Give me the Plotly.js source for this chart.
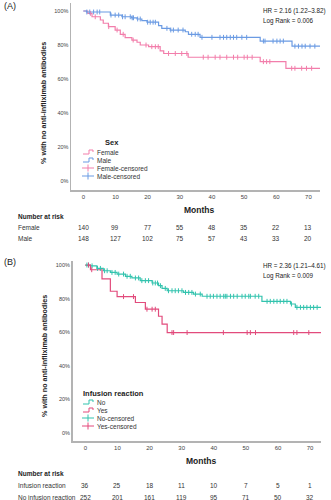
<!DOCTYPE html>
<html><head><meta charset="utf-8">
<script src="https://cdn.plot.ly/plotly-3.0.1.min.js"></script>
<style>html,body{margin:0;padding:0;background:#fff}#chart{width:331px;height:500px}</style>
</head><body><div id="chart"></div>
<script>
// ---------- data ----------
const monthTicks = [0, 10, 20, 30, 40, 50, 60, 70];
const yTicks = [0, 20, 40, 60, 80, 100];
const yTickLabels = ['0%', '20%', '40%', '60%', '80%', '100%'];

// Panel A: Sex
const femaleTimes = [0, 1.4, 2.7, 5.3, 6.2, 7.8, 9.9, 11.5, 13, 15.1, 16.7, 17.7, 20.3, 23.9, 25, 32.6, 55, 63, 73.6];
const femaleSurv  = [100, 98.6, 96.6, 94.7, 92.8, 90.8, 88.8, 86.3, 84.3, 82.9, 81.6, 80, 79, 76.5, 75, 72.8, 70.2, 66.3, 66.3];
const femaleCensor = [2.2, 3.7, 7.9, 10.5, 12.4, 15.5, 19.5, 21.3, 22.4, 23.3, 26.5, 28.6, 30.6, 32.2, 37.3, 38.8, 41, 42.5, 44.6, 46.7, 48, 50, 51, 52.5, 56, 57, 58, 64.8, 65.8, 67.9, 69.4, 71];
const maleTimes = [0, 1, 8.4, 12, 15, 16.7, 18.2, 19.8, 23.4, 24.4, 27, 31.7, 32.7, 36.3, 55, 64.9, 73.6];
const maleSurv  = [100, 99.4, 97.6, 96.6, 96, 95.3, 94.3, 93.4, 91.4, 89.8, 88.8, 87.8, 86.3, 84.5, 82.3, 79.3, 79.3];
const maleCensor = [1.1, 2, 3.2, 4.3, 5.1, 8.6, 9.9, 11, 12.2, 13, 14.6, 15.2, 15.6, 16.9, 17.7, 20, 20.8, 21.7, 22.4, 26, 27.2, 28, 29.5, 31, 33.7, 34.8, 35.7, 36.9, 40, 42.5, 43.6, 44.6, 45.7, 46.7, 47.7, 49.3, 50.8, 56, 56.5, 59, 60.2, 61.2, 62.2, 65.8, 66.9, 68, 69, 70.5, 72];
const femaleRisk = [140, 99, 77, 55, 48, 35, 22, 13];
const maleRisk   = [148, 127, 102, 75, 57, 43, 33, 20];

// Panel B: Infusion reaction
const noTimes = [0, 1.6, 3.6, 5.6, 7.8, 9.9, 12.5, 14.5, 17.1, 20.8, 22.8, 23.9, 25.5, 30.6, 33.7, 36.4, 55, 63.9, 65.4, 73.4];
const noSurv  = [100, 99.5, 98, 96.6, 95.6, 94.6, 93.3, 92.3, 90.7, 89.3, 87.7, 86.1, 84.7, 83.7, 82.7, 81.4, 78.4, 76.8, 74.8, 74.8];
const noCensor = [0.5, 1, 2.1, 3.8, 4.7, 6, 6.8, 8.3, 9.3, 10.4, 11.9, 13, 14, 15.6, 16.6, 17.6, 18.7, 19.7, 21, 21.8, 22.5, 23.4, 24.9, 25.9, 27, 28, 29, 30.1, 31.2, 32.2, 33.2, 34.3, 35.8, 37.9, 38.9, 39.9, 41, 42, 43.1, 43.6, 44.1, 45.2, 46.2, 47.3, 48.8, 49.8, 50.9, 51.4, 52.9, 54, 56.6, 57.6, 58.7, 59.7, 60.7, 61.8, 62.8, 64.2, 65.9, 67, 68, 69, 70.1, 71.1, 72.2];
const yesTimes = [0, 1.6, 5.2, 7.8, 9.9, 15.6, 18.7, 22.8, 23.9, 25.5, 73.4];
const yesSurv  = [100, 97.2, 91.7, 84.4, 81.2, 77.7, 73.7, 69.5, 64.8, 59.8, 59.8];
const yesCensor = [1, 2, 11.9, 15, 19.2, 20.8, 21.8, 27, 27.5, 31.7, 43, 50.4, 51.4, 53, 64.9, 65.9, 69.6];
const infRisk   = [36, 25, 18, 11, 10, 7, 5, 1];
const noInfRisk = [252, 201, 161, 119, 95, 71, 50, 32];

// ---------- styling ----------
const C = {female: '#f27eab', male: '#6b9be3', no: '#33c3ae', yes: '#e24b7c'};
const FONT = 'Liberation Sans, Arial, sans-serif';
const W = 331, H = 500;
const px = x => x / W, py = y => 1 - y / H;

function survAt(times, surv, t) {
  let v = surv[0];
  for (let i = 0; i < times.length; i++) { if (times[i] <= t) v = surv[i]; }
  return v;
}
function curve(times, surv, color, xa, ya) {
  return {x: times, y: surv, type: 'scatter', mode: 'lines', line: {shape: 'hv', color: color, width: 1.2},
    xaxis: xa, yaxis: ya, hoverinfo: 'skip', showlegend: false};
}
function censor(times, surv, ct, color, xa, ya) {
  return {x: ct, y: ct.map(t => survAt(times, surv, t)), type: 'scatter', mode: 'markers',
    marker: {symbol: 'line-ns-open', size: 3.5, color: color, line: {color: color, width: 1}},
    xaxis: xa, yaxis: ya, hoverinfo: 'skip', showlegend: false};
}

const data = [
  curve(femaleTimes, femaleSurv, C.female, 'x', 'y'),
  curve(maleTimes, maleSurv, C.male, 'x', 'y'),
  censor(femaleTimes, femaleSurv, femaleCensor, C.female, 'x', 'y'),
  censor(maleTimes, maleSurv, maleCensor, C.male, 'x', 'y'),
  curve(noTimes, noSurv, C.no, 'x2', 'y2'),
  curve(yesTimes, yesSurv, C.yes, 'x2', 'y2'),
  censor(noTimes, noSurv, noCensor, C.no, 'x2', 'y2'),
  censor(yesTimes, yesSurv, yesCensor, C.yes, 'x2', 'y2')
];

const axX = {tickmode: 'array', tickvals: monthTicks, showline: true, linecolor: '#b3b3b3', linewidth: 1.5, showgrid: false,
  zeroline: false, ticks: '', tickfont: {size: 6, color: '#444', family: FONT}, fixedrange: true};
const axY = {tickmode: 'array', tickvals: yTicks, ticktext: yTickLabels, showline: true, linecolor: '#b3b3b3', linewidth: 1.5,
  showgrid: false, zeroline: false, ticks: '', tickfont: {size: 5.5, color: '#444', family: FONT}, fixedrange: true};

const annotations = [];
function txt(x, y, text, opts) {
  annotations.push(Object.assign({xref: 'paper', yref: 'paper', x: px(x), y: py(y), text: text, showarrow: false,
    xanchor: 'left', yanchor: 'middle', font: {size: 7, color: '#222', family: FONT}}, opts || {}));
}
// panel labels
txt(2, 6, '(A)', {font: {size: 9, color: '#222', family: FONT}});
txt(2, 262, '(B)', {font: {size: 9, color: '#222', family: FONT}});
// HR text
const hrFont = {size: 6.3, color: '#222', family: FONT};
txt(261, 11, 'HR = 2.16 (1.22–3.82)', {font: hrFont});
txt(261, 21, 'Log Rank = 0.006', {font: hrFont});
txt(261, 266, 'HR = 2.36 (1.21–4.61)', {font: hrFont});
txt(261, 276, 'Log Rank = 0.009', {font: hrFont});
// y titles
txt(44, 103, '% with no anti-infliximab antibodies', {xanchor: 'center', textangle: -90, font: {size: 7.2, color: '#222', family: FONT, weight: 'bold'}});
txt(44, 356, '% with no anti-infliximab antibodies', {xanchor: 'center', textangle: -90, font: {size: 7.2, color: '#222', family: FONT, weight: 'bold'}});
// x titles
txt(199, 210, '<b>Months</b>', {xanchor: 'center', font: {size: 8.5, color: '#222', family: FONT}});
txt(201, 461, '<b>Months</b>', {xanchor: 'center', font: {size: 8.5, color: '#222', family: FONT}});
// number at risk
txt(16, 217, '<b>Number at risk</b>', {font: {size: 6.5, color: '#222', family: FONT}});
txt(16, 228, 'Female', {font: {size: 6.5, color: '#333', family: FONT}});
txt(16, 238, 'Male', {font: {size: 6.5, color: '#333', family: FONT}});
txt(16, 473, '<b>Number at risk</b>', {font: {size: 6.5, color: '#222', family: FONT}});
txt(16, 485, 'Infusion reaction', {font: {size: 6.5, color: '#333', family: FONT}});
txt(16, 497, 'No infusion reaction', {font: {size: 6.5, color: '#333', family: FONT}});
function riskRow(vals, xref, y) {
  vals.forEach((v, i) => annotations.push({xref: xref, yref: 'paper', x: monthTicks[i], y: py(y), text: String(v),
    showarrow: false, xanchor: 'center', yanchor: 'middle', font: {size: 6.5, color: '#333', family: FONT}}));
}
riskRow(femaleRisk, 'x', 228);
riskRow(maleRisk, 'x', 238);
riskRow(infRisk, 'x2', 485);
riskRow(noInfRisk, 'x2', 497);

// legends (manual)
const shapes = [];
function legend(x0, yTitle, title, items) {
  txt(x0 + (title === 'Sex' ? 22 : 0), yTitle, '<b>' + title + '</b>', {font: {size: 7.5, color: '#222', family: FONT}});
  items.forEach(it => {
    const y = it.y;
    if (it.kind === 'step') {
      shapes.push({type: 'path', xref: 'paper', yref: 'paper', line: {color: it.color, width: 1},
        path: `M ${px(x0+2)} ${py(y+2)} L ${px(x0+8)} ${py(y+2)} L ${px(x0+8)} ${py(y-2)} L ${px(x0+12)} ${py(y-2)} L ${px(x0+12)} ${py(y)}`});
    } else {
      shapes.push({type: 'line', xref: 'paper', yref: 'paper', x0: px(x0+1), x1: px(x0+13), y0: py(y), y1: py(y), line: {color: it.color, width: 1}});
      shapes.push({type: 'line', xref: 'paper', yref: 'paper', x0: px(x0+7), x1: px(x0+7), y0: py(y-3.5), y1: py(y+3.5), line: {color: it.color, width: 1}});
    }
    txt(x0 + 14, y, it.label, {font: {size: 6.5, color: '#333', family: FONT}});
  });
}
legend(81, 142, 'Sex', [
  {kind: 'step', color: C.female, label: 'Female', y: 152},
  {kind: 'step', color: C.male, label: 'Male', y: 160},
  {kind: 'cross', color: C.female, label: 'Female-censored', y: 168},
  {kind: 'cross', color: C.male, label: 'Male-censored', y: 176}
]);
legend(81, 393, 'Infusion reaction', [
  {kind: 'step', color: C.no, label: 'No', y: 402},
  {kind: 'step', color: C.yes, label: 'Yes', y: 410},
  {kind: 'cross', color: C.no, label: 'No-censored', y: 418},
  {kind: 'cross', color: C.yes, label: 'Yes-censored', y: 426}
]);

const layout = {
  width: W, height: H, margin: {l: 0, r: 0, t: 0, b: 0}, paper_bgcolor: '#fff', plot_bgcolor: '#fff',
  showlegend: false, font: {family: FONT},
  xaxis: Object.assign({}, axX, {domain: [px(71), px(320)], range: [-3.83, 73.6], anchor: 'y'}),
  yaxis: Object.assign({}, axY, {domain: [py(190), py(3)], range: [-5.3, 104.7], anchor: 'x'}),
  xaxis2: Object.assign({}, axX, {domain: [px(72.5), px(321)], range: [-3.99, 73.4], anchor: 'y2'}),
  yaxis2: Object.assign({}, axY, {domain: [py(441), py(261)], range: [-4.76, 102.4], anchor: 'x2'}),
  annotations: annotations, shapes: shapes
};
Plotly.newPlot('chart', data, layout, {staticPlot: true, displayModeBar: false});
</script></body></html>
